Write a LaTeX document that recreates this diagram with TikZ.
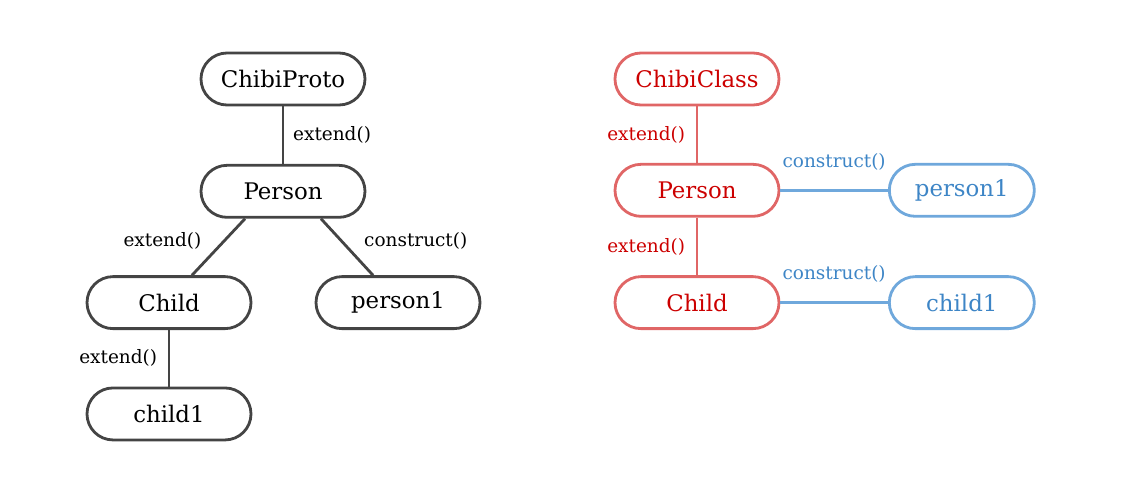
\documentclass[tikz,border=0pt]{standalone}
\usepackage{fontspec}
\setmainfont{DejaVu Serif}
\usetikzlibrary{positioning}
\definecolor{darkline}{HTML}{444444}
\definecolor{redline}{HTML}{E06666}
\definecolor{redtext}{HTML}{CC0000}
\definecolor{blueline}{HTML}{6FA8DC}
\definecolor{bluetext}{HTML}{3D85C6}

\begin{document}
\begin{tikzpicture}[
		objbox/.style={rectangle, draw=darkline, line width=1.6pt, rounded corners=0.52cm, minimum width=3.28cm, minimum height=1.04cm, font=\fontsize{13}{15}\selectfont},
		redbox/.style={objbox, draw=redline, text=redtext},
		bluebox/.style={objbox, draw=blueline, text=bluetext, minimum width=2.9cm},
		lbl/.style={font=\fontsize{10.5}{12}\selectfont, inner sep=2pt},
		link/.style={line width=1.6pt, draw=darkline}
	]
			\useasboundingbox (0,0) rectangle (22.66,-9.72);
			% left tree
			\node (proto) [objbox] at (5.66,-1.58) {ChibiProto};
			\node (person) [objbox, below=1.15cm of proto] {Person};
			\node (child) [objbox, below=1.13cm of person, xshift=-2.28cm] {Child};
			\node (person1) [objbox, below=1.13cm of person, xshift=2.3cm] {person1};
			\node (child1) [objbox, below=1.13cm of child] {child1};
			\draw[link] (proto) -- node[lbl, midway, right=3pt] {extend()} (person);
			\draw[link] ([xshift=-0.76cm]person.south) -- node[lbl, midway, left=7pt, yshift=0.12cm] {extend()} ([xshift=0.46cm]child.north);
			\draw[link] ([xshift=0.76cm]person.south) -- node[lbl, midway, right=7pt, yshift=0.12cm] {construct()} ([xshift=-0.5cm]person1.north);
			\draw[link] (child) -- node[lbl, midway, left=4pt] {extend()} (child1);
			% right tree
			\node (klass) [redbox] at (13.94,-1.58) {ChibiClass};
			\node (rperson) [redbox, below=1.13cm of klass] {Person};
			\node (rchild) [redbox, below=1.15cm of rperson] {Child};
			\node (rperson1) [bluebox, right=2.15cm of rperson] {person1};
			\node (rchild1) [bluebox, right=2.15cm of rchild] {child1};
			\draw[link, draw=redline] (klass) -- node[lbl, midway, left=4pt, text=redtext] {extend()} (rperson);
			\draw[link, draw=redline] (rperson) -- node[lbl, midway, left=4pt, text=redtext] {extend()} (rchild);
			\draw[link, draw=blueline] (rperson) -- node[lbl, midway, above=0.3cm, text=bluetext] {construct()} (rperson1);
			\draw[link, draw=blueline] (rchild) -- node[lbl, midway, above=0.3cm, text=bluetext] {construct()} (rchild1);
		\end{tikzpicture}
\end{document}
